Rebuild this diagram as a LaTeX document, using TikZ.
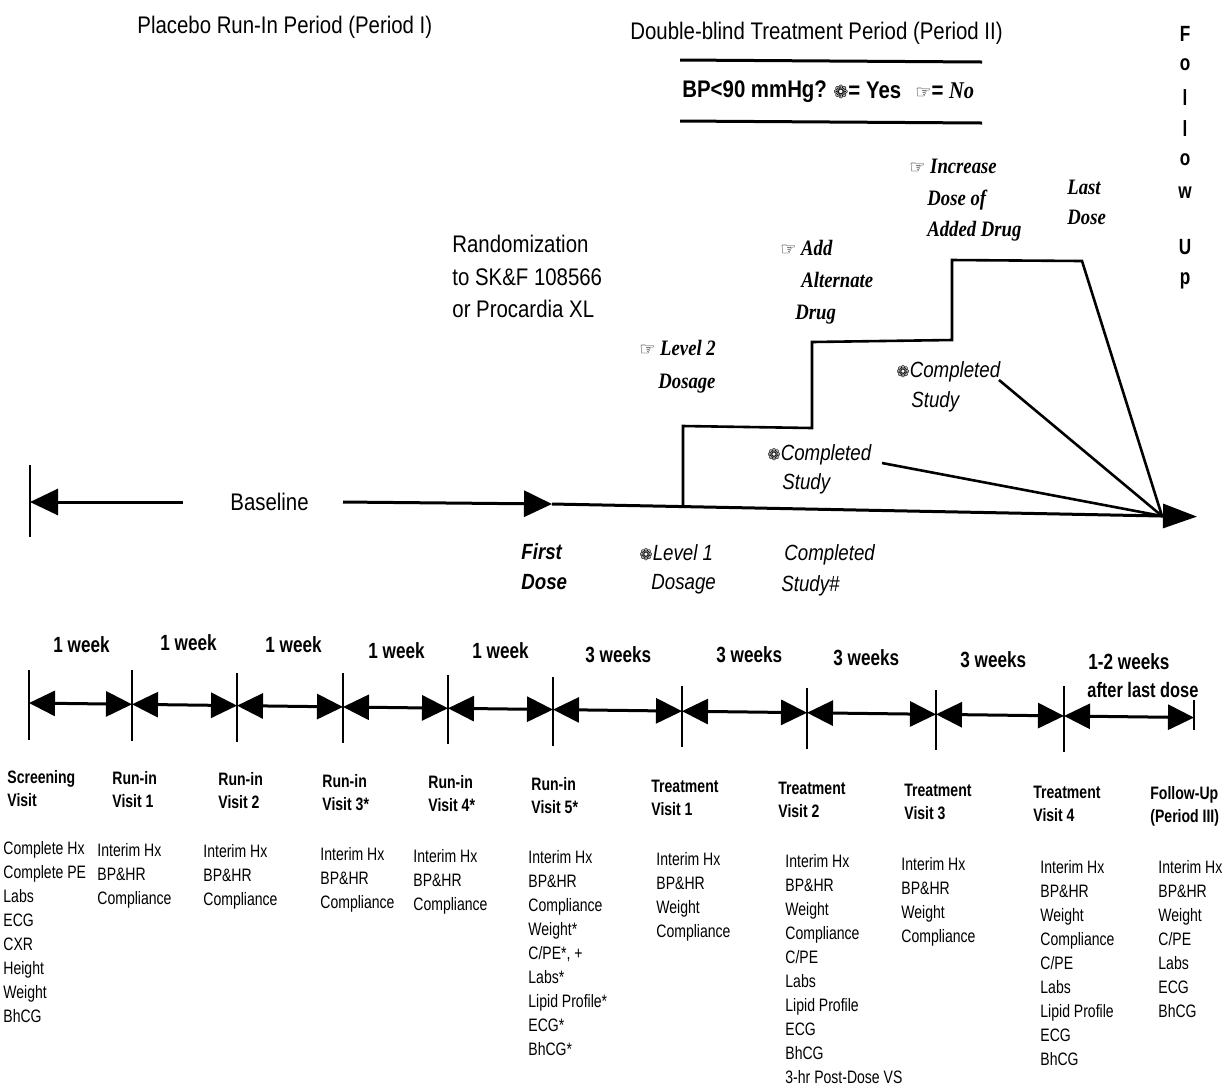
\documentclass[tikz,border=0pt]{standalone}
\usepackage{fontspec}
\setmainfont{Liberation Sans}[FakeStretch=0.78]
\newfontfamily\ttlfont{Liberation Sans}[FakeStretch=0.85]
\newfontfamily\serfont{Liberation Serif}[FakeStretch=0.85]
\newfontfamily\symfont{DejaVu Sans}
\usetikzlibrary{arrows.meta}
\newcommand\ysym{{\symfont\upshape\mdseries\fontsize{8}{8}\selectfont ❁}}
\newcommand\nsym{{\symfont\upshape\mdseries\fontsize{9}{9}\selectfont ☞}}
\tikzset{
  lbl/.style={inner sep=0pt, anchor=west, text depth=0pt},
  ttl/.style={lbl, font=\ttlfont\fontsize{12}{14}\selectfont, text height=8.6pt},
  ttlb/.style={lbl, font=\ttlfont\bfseries\fontsize{12}{14}\selectfont, text height=8.6pt},
  wk/.style={lbl, font=\bfseries\fontsize{11}{13}\selectfont, text height=7.9pt},
  hdr/.style={lbl, font=\bfseries\fontsize{9}{11}\selectfont, text height=6.5pt},
  itm/.style={lbl, font=\fontsize{9}{11}\selectfont, text height=6.5pt},
  ser/.style={lbl, font=\serfont\bfseries\itshape\fontsize{11}{13}\selectfont, text height=7.3pt},
  sit/.style={lbl, font=\ttlfont\itshape\fontsize{11}{13}\selectfont, text height=7.9pt},
  sbi/.style={lbl, font=\ttlfont\bfseries\itshape\fontsize{11}{13}\selectfont, text height=7.9pt},
  fu/.style={inner sep=0pt, anchor=base, font=\bfseries\fontsize{11}{13}\selectfont},
  thk/.style={line width=1.5pt},
  stp/.style={line width=1.3pt, line join=miter},
  tck/.style={line width=1pt},
  seg/.style={thk, arrows={Triangle[length=13pt,width=12.5pt]-Triangle[length=13pt,width=12.5pt]}},
  tipend/.style={arrows={-Triangle[length=14pt,width=13pt]}},
}
\newcommand\vcol[8]{%
  \node[hdr] (#1h1) at (#2,#3) {#4};
  \node[hdr] (#1h2) at (#2,#3+23) {#5};
  \foreach \t [count=\i] in {#8} {\node[itm] (#1i\i) at (#6,{#7+24*(\i-1)}) {\t};}
}
\begin{document}
\begin{tikzpicture}[x=0.5pt,y=-0.5pt]
\useasboundingbox (0,0) rectangle (1225,1089);

% ---------- titles ----------
\node[ttl] (title1) at (137,25) {Placebo Run-In Period (Period I)};
\node[ttl] (title2) at (630,31) {Double-blind Treatment Period (Period II)};
\coordinate (r1a) at (680,60); \coordinate (r1b) at (982,62);
\coordinate (r2a) at (680,121); \coordinate (r2b) at (982,123);
\draw[thk] (r1a) -- (r1b);
\draw[thk] (r2a) -- (r2b);
\node[ttlb] (bp1) at (682,89) {BP<90 mmHg?};
\node[ttlb] (bp2) at (833,90) {{\symfont\fontsize{9}{9}\selectfont ❁}= Yes};
\node[ttlb] (bp3) at (915,90) {\nsym= {\serfont\itshape No}};

% ---------- Follow Up ----------
\node[fu] (fu1) at (1185,41) {F};
\node[fu] (fu2) at (1185,70) {o};
\node[fu] (fu3) at (1185,105) {l};
\node[fu] (fu4) at (1185,136) {l};
\node[fu] (fu5) at (1185,165) {o};
\node[fu] (fu6) at (1185,198) {w};
\node[fu] (fu7) at (1185,254) {U};
\node[fu] (fu8) at (1185,284) {p};

% ---------- randomization ----------
\node[ttl] (rnd1) at (452,244) {Randomization};
\node[ttl] (rnd2) at (452,277) {to SK\&F 108566};
\node[ttl] (rnd3) at (452,309) {or Procardia XL};

% ---------- baseline ----------
\coordinate (bt1) at (30,465); \coordinate (bt2) at (30,537);
\draw[tck] (bt1) -- (bt2);
\coordinate (b0) at (30,502); \coordinate (b1) at (183,502);
\draw[thk,tipend] (b1) -- (b0);
\node[ttl] (base) at (230,502) {Baseline};
\coordinate (b2) at (343,502); \coordinate (fd) at (552,504);
\draw[thk,tipend] (b2) -- (fd);
\coordinate (conv) at (1162,516); \coordinate (bend) at (1197,516.6);
\draw[thk] (fd) -- (conv);
\draw[thk,arrows={-Triangle[length=17pt,width=12pt]}] (conv) -- (bend);

% ---------- steps ----------
\coordinate (s0) at (683,507); \coordinate (s1) at (683,426);
\coordinate (s2) at (812,428); \coordinate (s3) at (812,342);
\coordinate (s4) at (952,340); \coordinate (s5) at (952,260);
\coordinate (s6) at (1082,261);
\draw[stp] (s0) -- (s1) -- (s2) -- (s3) -- (s4) -- (s5) -- (s6) -- (conv);
\coordinate (d2) at (999,380); \coordinate (d1) at (882,463);
\draw[stp] (d2) -- (conv);
\draw[stp] (d1) -- (conv);

% ---------- step labels ----------
\node[ser] (lv2a) at (639,348) {\nsym\ Level 2};
\node[ser] (lv2b) at (658,381) {Dosage};
\node[ser] (adda) at (780,248) {\nsym\ Add};
\node[ser] (addb) at (801,280) {Alternate};
\node[ser] (addc) at (795,312) {Drug};
\node[ser] (inca) at (909,166) {\nsym\ Increase};
\node[ser] (incb) at (927,198) {Dose of};
\node[ser] (incc) at (927,229) {Added Drug};
\node[ser] (lsta) at (1067,187) {Last};
\node[ser] (lstb) at (1067,217) {Dose};
\node[sit] (cs2a) at (896,370) {\ysym Completed};
\node[sit] (cs2b) at (911,400) {Study};
\node[sit] (cs1a) at (767,453) {\ysym Completed};
\node[sit] (cs1b) at (782,482) {Study};
\node[sbi] (fda) at (521,552) {First};
\node[sbi] (fdb) at (521,582) {Dose};
\node[sit] (l1a) at (639,553) {\ysym Level 1};
\node[sit] (l1b) at (651,582) {Dosage};
\node[sit] (csa) at (784,553) {Completed};
\node[sit] (csb) at (781,584) {Study\#};

% ---------- week labels ----------
\node[wk] (w1) at (53,645) {1 week};
\node[wk] (w2) at (160,643) {1 week};
\node[wk] (w3) at (265,645) {1 week};
\node[wk] (w4) at (368,651) {1 week};
\node[wk] (w5) at (472,651) {1 week};
\node[wk] (w6) at (585,655) {3 weeks};
\node[wk] (w7) at (716,655) {3 weeks};
\node[wk] (w8) at (833,658) {3 weeks};
\node[wk] (w9) at (960,660) {3 weeks};
\node[wk] (w10) at (1088,662) {1-2 weeks};
\node[wk,font=\bfseries\fontsize{10.5}{12}\selectfont] (w11) at (1087,690) {after last dose};

% ---------- timeline ----------
\foreach \x/\t/\b [count=\i] in {29/670/740, 132/670/741, 237/673/742, 343/673/743, 448/675/744, 553/677/746, 682/686/747, 807/688/749, 936/690/750, 1064/686/752, 1194/700/730} {
  \coordinate (a\i) at (\x,{703+0.0125*(\x-29)});
  \coordinate (tt\i) at (\x,\t);
  \coordinate (tb\i) at (\x,\b);
  \draw[tck] (tt\i) -- (tb\i);
}
\foreach \i in {1,...,10} {
  \pgfmathtruncatemacro\j{\i+1}
  \draw[seg] (a\i) -- (a\j);
}

% ---------- visit columns ----------
\vcol{c1}{7}{777}{Screening}{Visit}{3}{848}{Complete Hx,Complete PE,Labs,ECG,CXR,Height,Weight,BhCG}
\vcol{c2}{112}{778}{Run-in}{Visit 1}{97}{850}{Interim Hx,BP\&HR,Compliance}
\vcol{c3}{218}{779}{Run-in}{Visit 2}{203}{851}{Interim Hx,BP\&HR,Compliance}
\vcol{c4}{322}{781}{Run-in}{Visit 3*}{320}{854}{Interim Hx,BP\&HR,Compliance}
\vcol{c5}{428}{782}{Run-in}{Visit 4*}{413}{856}{Interim Hx,BP\&HR,Compliance}
\vcol{c6}{531}{784}{Run-in}{Visit 5*}{528}{857}{Interim Hx,BP\&HR,Compliance,Weight*,{C/PE*, +},Labs*,Lipid Profile*,ECG*,BhCG*}
\vcol{c7}{651}{786}{Treatment}{Visit 1}{656}{859}{Interim Hx,BP\&HR,Weight,Compliance}
\vcol{c8}{778}{788}{Treatment}{Visit 2}{785}{861}{Interim Hx,BP\&HR,Weight,Compliance,C/PE,Labs,Lipid Profile,ECG,BhCG,3-hr Post-Dose VS}
\vcol{c9}{904}{790}{Treatment}{Visit 3}{901}{864}{Interim Hx,BP\&HR,Weight,Compliance}
\vcol{c10}{1033}{792}{Treatment}{Visit 4}{1040}{867}{Interim Hx,BP\&HR,Weight,Compliance,C/PE,Labs,Lipid Profile,ECG,BhCG}
\vcol{c11}{1150}{793}{Follow-Up}{(Period III)}{1158}{867}{Interim Hx,BP\&HR,Weight,C/PE,Labs,ECG,BhCG}
\end{tikzpicture}
\end{document}
